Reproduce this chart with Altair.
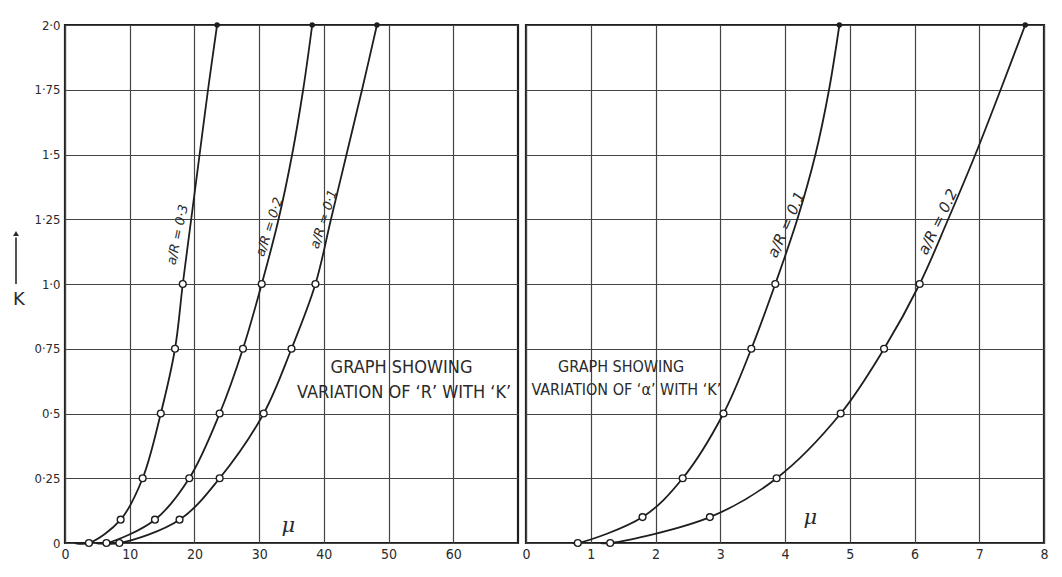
import altair as alt
import pandas as pd

# ---------------- data ----------------
# Left panel: variation of R with K  (x = mu, 0..70)
L_curves = ["a/R = 0·3", "a/R = 0·2", "a/R = 0·1"]
L03_mu = [1.5, 3.7, 8.6, 12.0, 14.8, 17.0, 18.2, 19.5, 20.8, 22.1, 23.5]
L03_k = [0, 0, 0.09, 0.25, 0.5, 0.75, 1.0, 1.25, 1.5, 1.75, 2.0]
L02_mu = [4.8, 6.4, 13.9, 19.2, 23.9, 27.5, 30.4, 33.0, 35.1, 36.8, 38.2]
L02_k = [0, 0, 0.09, 0.25, 0.5, 0.75, 1.0, 1.25, 1.5, 1.75, 2.0]
L01_mu = [5.5, 8.4, 17.7, 23.9, 30.7, 35.0, 38.7, 41.1, 43.5, 45.9, 48.2]
L01_k = [0, 0, 0.09, 0.25, 0.5, 0.75, 1.0, 1.25, 1.5, 1.75, 2.0]

# Right panel: variation of alpha with K  (x = mu, 0..8)
R_curves = ["a/R = 0.1", "a/R = 0.2"]
R01_mu = [0.72, 0.80, 1.80, 2.42, 3.05, 3.48, 3.85, 4.19, 4.47, 4.68, 4.84]
R01_k = [0, 0, 0.10, 0.25, 0.5, 0.75, 1.0, 1.25, 1.5, 1.75, 2.0]
R02_mu = [1.15, 1.30, 2.84, 3.87, 4.86, 5.53, 6.08, 6.52, 6.94, 7.33, 7.71]
R02_k = [0, 0, 0.10, 0.25, 0.5, 0.75, 1.0, 1.25, 1.5, 1.75, 2.0]

# marker kind for each point (same pattern on every curve)
marker_kind = ["none", "open", "open", "open", "open", "open", "open",
               "none", "none", "none", "dot"]

# curve labels: position (mu, K) and rotation
L_lab_mu = [17.4, 31.6, 40.0]
L_lab_k = [1.19, 1.22, 1.25]
L_lab_angle = [282, 288, 288]
R_lab_mu = [4.02, 6.36]
R_lab_k = [1.23, 1.24]
R_lab_angle = [294, 296]

y_ticks = [0, 0.25, 0.5, 0.75, 1.0, 1.25, 1.5, 1.75, 2.0]
xL_ticks = [0, 10, 20, 30, 40, 50, 60]
xR_ticks = [0, 1, 2, 3, 4, 5, 6, 7, 8]

L_title = ["GRAPH SHOWING", "VARIATION OF ‘R’ WITH ‘K’"]
L_title_mu = [52.0, 52.4]
L_title_k = [0.674, 0.578]
R_title = ["GRAPH SHOWING", "VARIATION OF ‘α’ WITH ‘K’"]
R_title_mu = [1.47, 1.55]
R_title_k = [0.68, 0.59]

# ---------------- build tables ----------------
def curve_df(names, mus, ks):
    rows = []
    for name, m, k in zip(names, mus, ks):
        for mm, kk, mk in zip(m, k, marker_kind):
            rows.append({"curve": name, "mu": mm, "K": kk, "marker": mk})
    return pd.DataFrame(rows)

left_df = curve_df(L_curves, [L03_mu, L02_mu, L01_mu], [L03_k, L02_k, L01_k])
right_df = curve_df(R_curves, [R01_mu, R02_mu], [R01_k, R02_k])
left_lab = pd.DataFrame({"t": L_curves, "mu": L_lab_mu, "K": L_lab_k, "a": L_lab_angle})
right_lab = pd.DataFrame({"t": R_curves, "mu": R_lab_mu, "K": R_lab_k, "a": R_lab_angle})
left_tt = pd.DataFrame({"t": L_title, "mu": L_title_mu, "K": L_title_k})
right_tt = pd.DataFrame({"t": R_title, "mu": R_title_mu, "K": R_title_k})

INK = "#1e1e1e"
FONT = "DejaVu Sans Condensed, DejaVu Sans, sans-serif"
H = 518
WL = 453
WR = 518

ylab_expr = ("datum.value == 0 ? '0' : (datum.value == floor(datum.value) ? "
             "toString(datum.value) + '·0' : replace(toString(datum.value), '.', '·'))")


def panel(df, labs, titles, xdom, xticks, width, show_y, mu_pos, lab_size, title_size):
    xs = alt.Scale(domain=xdom, nice=False, zero=False)
    ys = alt.Scale(domain=[0, 2], nice=False)
    xax = alt.Axis(values=xticks, title=None, grid=True, ticks=False, domain=False,
                   format="d", labelFont=FONT, labelFontSize=14, labelColor="#2a2a2a",
                   labelPadding=4, gridColor="#444444", gridWidth=1.2,
                   labelFlush=False)
    if show_y:
        yax = alt.Axis(values=y_ticks, title=None, grid=True, ticks=False, domain=False,
                       labelExpr=ylab_expr, labelFont=FONT, labelFontSize=13,
                       labelColor="#2a2a2a", labelPadding=5,
                       gridColor="#444444", gridWidth=1.2)
    else:
        yax = alt.Axis(values=y_ticks, title=None, grid=True, ticks=False, domain=False,
                       labels=False, gridColor="#444444", gridWidth=1.2)

    base = alt.Chart(df)
    lines = base.mark_line(interpolate="catmull-rom", color=INK, strokeWidth=1.8).encode(
        x=alt.X("mu:Q", scale=xs, axis=xax),
        y=alt.Y("K:Q", scale=ys, axis=yax),
        detail="curve:N",
        order="K:Q",
    )
    opens = base.transform_filter(alt.datum.marker == "open").mark_point(
        shape="circle", filled=True, fill="white", stroke=INK, strokeWidth=1.4,
        size=46, opacity=1).encode(x="mu:Q", y="K:Q")
    dots = base.transform_filter(alt.datum.marker == "dot").mark_point(
        shape="circle", filled=True, color=INK, size=30, opacity=1).encode(
        x="mu:Q", y="K:Q")
    clabels = alt.Chart(labs).mark_text(
        font="DejaVu Sans, sans-serif", fontStyle="italic", fontSize=lab_size,
        color="#2a2a2a", align="center", baseline="middle").encode(
        x="mu:Q", y="K:Q", text="t:N", angle=alt.Angle("a:Q", scale=None))
    ttl = alt.Chart(titles).mark_text(
        font=FONT, fontSize=title_size, color="#2a2a2a", align="center",
        baseline="middle").encode(x="mu:Q", y="K:Q", text="t:N")
    mu_lab = alt.Chart(pd.DataFrame({"t": ["μ"], "mu": [mu_pos[0]], "K": [mu_pos[1]]})).mark_text(
        font="DejaVu Serif, serif", fontStyle="italic", fontSize=21, color="#2a2a2a",
        align="center", baseline="middle").encode(x="mu:Q", y="K:Q", text="t:N")
    layers = [lines, opens, dots, clabels, ttl, mu_lab]
    if show_y:
        ktxt = alt.Chart(pd.DataFrame({"t": ["K"]})).mark_text(
            font="DejaVu Sans, sans-serif", fontSize=18, color="#2a2a2a",
            align="center", baseline="middle").encode(
            x=alt.value(-46), y=alt.datum(0.94), text="t:N")
        shaft = alt.Chart(pd.DataFrame({"a": [0]})).mark_rule(
            color="#2a2a2a", strokeWidth=1.6).encode(
            x=alt.value(-49), y=alt.datum(1.0), y2=alt.datum(1.18))
        head = alt.Chart(pd.DataFrame({"a": [0]})).mark_point(
            shape="triangle-up", filled=True, color="#2a2a2a", size=35, opacity=1).encode(
            x=alt.value(-49), y=alt.datum(1.195))
        layers += [ktxt, shaft, head]
    return alt.layer(*layers).properties(width=width, height=H)


left = panel(left_df, left_lab, left_tt, [0, 70], xL_ticks, WL, True, (34.5, 0.065), 13, 18)
right = panel(right_df, right_lab, right_tt, [0, 8], xR_ticks, WR, False, (4.39, 0.095), 15, 16)

chart = alt.hconcat(left, right, spacing=0).properties(
    padding={"left": 3, "top": 9, "right": 0, "bottom": 0},
    background="white",
).configure_view(stroke=INK, strokeWidth=2.2)

chart.save("out.html", embed_options={"renderer": "svg", "actions": False})
